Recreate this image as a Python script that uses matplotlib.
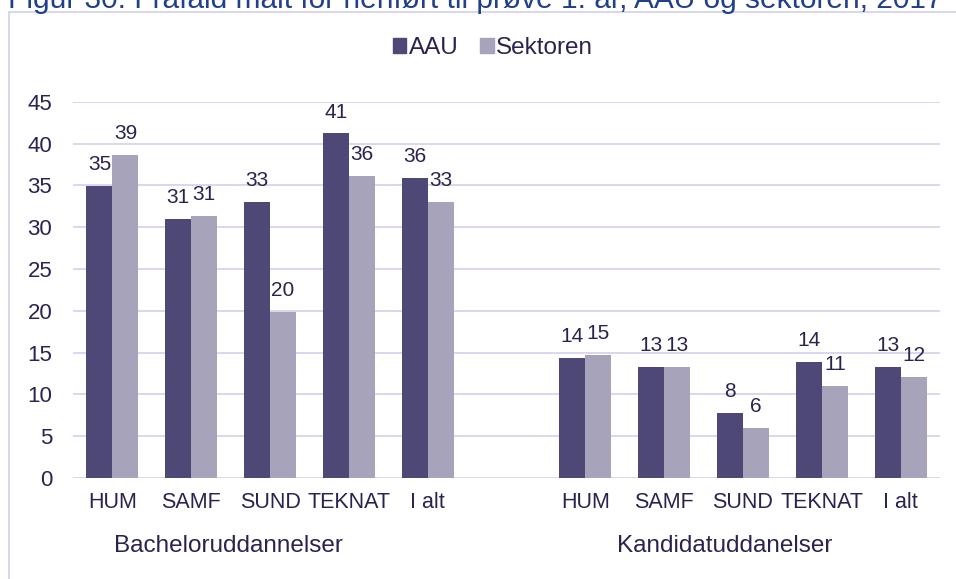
import matplotlib.pyplot as plt
import numpy as np
from matplotlib.patches import Patch, Rectangle

# Frafald (%) efter uddannelsestype og hovedområde
categories = ['HUM', 'SAMF', 'SUND', 'TEKNAT', 'I alt']
groups = ['Bacheloruddannelser', 'Kandidatuddanelser']

bach_aau = [34.9, 31.0, 33.0, 41.2, 35.9]
bach_sektor = [38.6, 31.3, 19.8, 36.1, 33.0]
kand_aau = [14.3, 13.3, 7.8, 13.9, 13.3]
kand_sektor = [14.7, 13.3, 6.0, 11.0, 12.1]

yticks = list(range(0, 50, 5))
title = 'Figur 30: Frafald målt for henført til prøve 1. år, AAU og sektoren, 2017'

C_AAU = '#4E4876'
C_SEK = '#A7A3BA'
C_GRID = '#D9D6F1'
C_TEXT = '#29244F'
C_TITLE = '#21408A'

plt.rcParams['font.family'] = ['Liberation Sans', 'DejaVu Sans']

W, H = 956, 579
fig = plt.figure(figsize=(W / 100, H / 100), dpi=100)

# outer chart frame (only left and top edges fall inside the image)
fig.patches.append(Rectangle((9 / W, -0.1), 1.2, 1 - 12 / H + 0.1,
                             transform=fig.transFigure, fill=False,
                             edgecolor='#D2CFEA', linewidth=1.2))

# caption above the frame, running off the top edge
fig.text(8 / W, 1 - 7.5 / H, title, color=C_TITLE, fontsize=21.5,
         va='baseline', ha='left')

ax = fig.add_axes([73 / W, (H - 478) / H, 867 / W, 376.3 / H])

# bachelor slots 0-4, one empty slot, kandidat slots 6-10
slots = np.concatenate([np.arange(5), np.arange(6, 11)])
aau = bach_aau + kand_aau
sektor = bach_sektor + kand_sektor
labels = categories + categories

bw = 0.33
b1 = ax.bar(slots - bw / 2, aau, bw, color=C_AAU, zorder=3)
b2 = ax.bar(slots + bw / 2, sektor, bw, color=C_SEK, zorder=3)

for bars, vals in ((b1, aau), (b2, sektor)):
    for rect, v in zip(bars, vals):
        ax.annotate(f'{v:.0f}', (rect.get_x() + rect.get_width() / 2, v),
                    xytext=(0, 11.5), textcoords='offset points',
                    ha='center', va='baseline', fontsize=15, color=C_TEXT)

ax.set_xlim(-0.5, 10.5)
ax.set_ylim(0, 45)
ax.set_yticks(yticks)
ax.set_xticks(slots)
ax.set_xticklabels(labels)
ax.tick_params(axis='y', length=0, pad=15, labelsize=16, labelcolor=C_TEXT)
ax.tick_params(axis='x', length=0, pad=10, labelsize=15.5, labelcolor=C_TEXT)
for y in yticks:
    ax.axhline(y, color=C_GRID, linewidth=1.4, zorder=1)
for s in ax.spines.values():
    s.set_visible(False)

# group captions below the category labels
group_x = [1.47, 7.77]
for gx, name in zip(group_x, groups):
    px = ax.transData.transform((gx, 0))[0]
    fig.text(px / W, (H - 552) / H, name, ha='center', va='baseline',
             fontsize=17.5, color=C_TEXT)

handles = [Patch(color=C_AAU, label='AAU'), Patch(color=C_SEK, label='Sektoren')]
fig.legend(handles=handles, loc='center', bbox_to_anchor=(493 / W, 1 - 48 / H),
           ncol=2, frameon=False, fontsize=17.5, handlelength=0.55,
           handleheight=0.55, handletextpad=0.1, columnspacing=0.9,
           labelcolor=C_TEXT)

fig.savefig('out.png', dpi=100)
